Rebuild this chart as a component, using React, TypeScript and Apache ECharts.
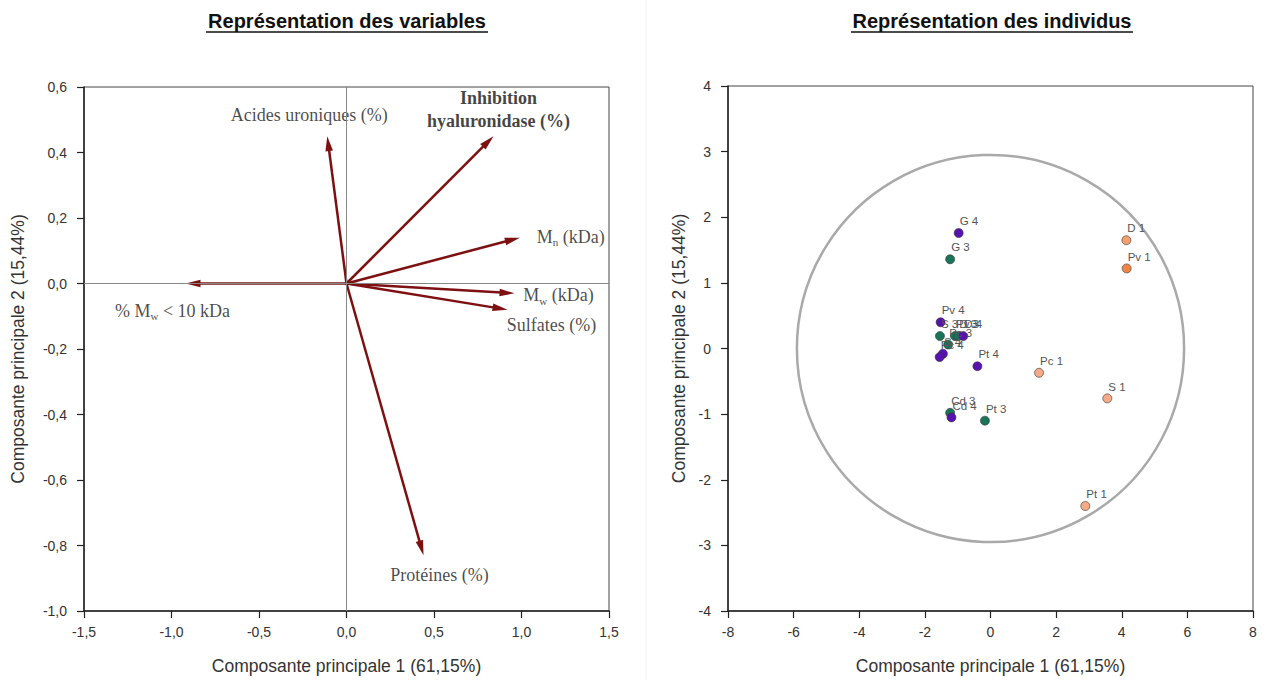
import React, { useEffect, useRef } from "react";
import * as echarts from "echarts";

// ---- Variables map (loadings on PC1 / PC2) ----
const variableLabels = [
  "Acides uroniques (%)",
  "{b|Inhibition}\n{b|hyaluronidase (%)}",
  "M{sub|n} (kDa)",
  "M{sub|w} (kDa)",
  "Sulfates (%)",
  "% M{sub|w} < 10 kDa",
  "Protéines (%)",
];
const pc1Loadings = [-0.11, 0.84, 0.99, 0.96, 0.92, -0.92, 0.44];
const pc2Loadings = [0.45, 0.45, 0.14, -0.03, -0.08, 0.0, -0.83];

// ---- Individuals map (scores on PC1 / PC2) ----
const group1Names = ["D 1", "Pv 1", "Pc 1", "S 1", "Pt 1"];
const group1X = [4.14, 4.15, 1.48, 3.56, 2.89];
const group1Y = [1.65, 1.22, -0.37, -0.76, -2.4];

const group3Names = ["G 3", "S 3", "Pv 3", "D 3", "Pc 3", "Cd 3", "Pt 3"];
const group3X = [-1.23, -1.54, -1.08, -0.98, -1.29, -1.23, -0.17];
const group3Y = [1.36, 0.19, 0.19, 0.19, 0.06, -0.98, -1.1];

const group4Names = ["G 4", "Pv 4", "D 4", "S 4", "Pc 4", "Pt 4", "Cd 4"];
const group4X = [-0.97, -1.52, -0.83, -1.45, -1.55, -0.4, -1.19];
const group4Y = [1.76, 0.4, 0.19, -0.08, -0.13, -0.27, -1.05];

const correlationCircleRadius = 5.9; // PC1 units

// ---- Axis ticks ----
const varXTicks = { min: -1.5, max: 1.5, interval: 0.5 };
const varYTicks = { min: -1.0, max: 0.6, interval: 0.2 };
const indXTicks = { min: -8, max: 8, interval: 2 };
const indYTicks = { min: -4, max: 4, interval: 1 };

const titleVariables = "Représentation des variables";
const titleIndividus = "Représentation des individus";
const xName = "Composante principale 1 (61,15%)";
const yName = "Composante principale 2 (15,44%)";

// ---- Styling (layout only) ----
const labelOffsets: number[][] = [
  [-18, -21],
  [5, -27],
  [51, -1],
  [44, 2],
  [44, 15],
  [-13, 27],
  [16, 20],
];
const ARROW = "#7d1010";
const SANS = "'Liberation Sans', Arial, sans-serif";
const SERIF = "'Liberation Serif', 'Times New Roman', serif";
const pointColors: Record<string, string> = { "Pv 1": "#ee8446", "D 1": "#f3a06e" };
const group1Color = "#f5aa88";
const group3Color = "#187559";
const group4Color = "#5812b0";

const commaFmt = (d: number) => (v: number) => {
  const s = v.toFixed(d).replace(".", ",");
  return s === "-0,0" ? "0,0" : s;
};

function axisCommon(grid: number) {
  return {
    gridIndex: grid,
    type: "value" as const,
    axisLine: { show: true, onZero: false, lineStyle: { color: "#222", width: 1.5 } },
    axisTick: { show: true, inside: false, length: 7, lineStyle: { color: "#222", width: 1.2 } },
    splitLine: { show: false },
    nameLocation: "middle" as const,
    nameTextStyle: { fontFamily: SANS, fontSize: 17.5, color: "#333" },
  };
}

const tickLabel = { fontFamily: SANS, fontSize: 14, color: "#333" };

export default function App() {
  const ref = useRef<HTMLDivElement>(null);
  useEffect(() => {
    if (!ref.current) return;
    const chart = echarts.init(ref.current, null, { renderer: "svg" });

    const arrowData = pc1Loadings.map((x, i) => [x, pc2Loadings[i]]);
    const labelData = pc1Loadings.map((x, i) => ({
      name: variableLabels[i],
      value: [x, pc2Loadings[i]],
      label: {
        offset: labelOffsets[i],
        ...(i === 0 ? { backgroundColor: "#fff", padding: [3, 1] } : {}),
      },
    }));

    const mkPoints = (names: string[], xs: number[], ys: number[]) =>
      names.map((n, i) => ({ name: n, value: [xs[i], ys[i]] }));

    const pointSeries = (name: string, names: string[], xs: number[], ys: number[], color: string) => ({
      name,
      type: "scatter",
      xAxisIndex: 1,
      yAxisIndex: 1,
      symbolSize: 9,
      z: 5,
      itemStyle: {
        color: (p: any) => pointColors[p.name] || color,
        borderColor: "#333",
        borderWidth: 0.6,
        opacity: 1,
      },
      label: {
        show: true,
        formatter: "{b}",
        position: "top",
        distance: 1,
        align: "left",
        offset: [1, 0],
        fontFamily: SANS,
        fontSize: 11.5,
        color: "#555",
      },
      data: mkPoints(names, xs, ys),
    });

    const option: any = {
      animation: false,
      backgroundColor: "#fff",
      grid: [
        { left: 84, top: 87, width: 525, height: 524, show: true, borderColor: "#444", borderWidth: 1 },
        { left: 728, top: 86, width: 525, height: 526, show: true, borderColor: "#444", borderWidth: 1 },
      ],
      xAxis: [
        {
          ...axisCommon(0),
          ...varXTicks,
          name: xName,
          nameGap: 46,
          axisLabel: { ...tickLabel, formatter: commaFmt(1), margin: 14 },
        },
        {
          ...axisCommon(1),
          ...indXTicks,
          name: xName,
          nameGap: 46,
          axisLabel: { ...tickLabel, margin: 14 },
        },
      ],
      yAxis: [
        {
          ...axisCommon(0),
          ...varYTicks,
          name: yName,
          nameGap: 57,
          axisLabel: { ...tickLabel, formatter: commaFmt(1), margin: 17 },
        },
        {
          ...axisCommon(1),
          ...indYTicks,
          name: yName,
          nameGap: 40,
          axisLabel: { ...tickLabel, margin: 17 },
        },
      ],
      graphic: [
        {
          type: "text",
          x: 347,
          y: 21,
          style: {
            text: titleVariables,
            fontFamily: SANS,
            fontSize: 20,
            fontWeight: "bold",
            fill: "#111",
            align: "center",
            verticalAlign: "middle",
          },
        },
        { type: "line", shape: { x1: 206, y1: 32, x2: 488, y2: 32 }, style: { stroke: "#111", lineWidth: 1.3 } },
        {
          type: "text",
          x: 992,
          y: 21,
          style: {
            text: titleIndividus,
            fontFamily: SANS,
            fontSize: 20,
            fontWeight: "bold",
            fill: "#111",
            align: "center",
            verticalAlign: "middle",
          },
        },
        { type: "line", shape: { x1: 851, y1: 32, x2: 1133, y2: 32 }, style: { stroke: "#111", lineWidth: 1.3 } },
        { type: "line", shape: { x1: 646, y1: 0, x2: 646, y2: 680 }, style: { stroke: "#f2f2f2", lineWidth: 1 } },
      ],
      series: [
        {
          name: "axes0",
          type: "scatter",
          xAxisIndex: 0,
          yAxisIndex: 0,
          data: [],
          z: 1,
          markLine: {
            silent: true,
            symbol: "none",
            label: { show: false },
            lineStyle: { color: "#888", width: 1, type: "solid" },
            data: [{ xAxis: 0 }, { yAxis: 0 }],
          },
        },
        {
          name: "arrows",
          type: "custom",
          xAxisIndex: 0,
          yAxisIndex: 0,
          z: 3,
          encode: { x: 0, y: 1 },
          data: arrowData,
          renderItem: (_p: any, api: any) => {
            const o = api.coord([0, 0]);
            const t = api.coord([api.value(0), api.value(1)]);
            const dx = t[0] - o[0];
            const dy = t[1] - o[1];
            const len = Math.hypot(dx, dy) || 1;
            const ux = dx / len;
            const uy = dy / len;
            const hl = 15;
            const hw = 3.8;
            const bx = t[0] - ux * hl;
            const by = t[1] - uy * hl;
            return {
              type: "group",
              children: [
                {
                  type: "line",
                  shape: { x1: o[0], y1: o[1], x2: bx + ux * 2, y2: by + uy * 2 },
                  style: { stroke: ARROW, lineWidth: 2.5 },
                },
                {
                  type: "polygon",
                  shape: {
                    points: [
                      [t[0], t[1]],
                      [bx - uy * hw, by + ux * hw],
                      [bx + uy * hw, by - ux * hw],
                    ],
                  },
                  style: { fill: ARROW },
                },
              ],
            };
          },
        },
        {
          name: "varLabels",
          type: "scatter",
          xAxisIndex: 0,
          yAxisIndex: 0,
          symbolSize: 0,
          z: 4,
          data: labelData,
          label: {
            show: true,
            position: "inside",
            formatter: "{b}",
            fontFamily: SERIF,
            fontSize: 18,
            color: "#1a1a1a",
            lineHeight: 22,
            rich: {
              b: { fontFamily: SERIF, fontSize: 18, fontWeight: "bold", color: "#111", lineHeight: 23 },
              sub: { fontFamily: SERIF, fontSize: 11, color: "#1a1a1a", verticalAlign: "bottom", lineHeight: 22, padding: [9, 0, 0, 0] },
            },
          },
        },
        {
          name: "circle",
          type: "custom",
          xAxisIndex: 1,
          yAxisIndex: 1,
          z: 2,
          encode: { x: 0, y: 1 },
          data: [[0, 0, correlationCircleRadius]],
          renderItem: (_p: any, api: any) => {
            const c = api.coord([api.value(0), api.value(1)]);
            const r = api.size([api.value(2), 0])[0];
            return {
              type: "circle",
              shape: { cx: c[0], cy: c[1], r },
              style: { fill: "none", stroke: "#a9a9a9", lineWidth: 2.5 },
            };
          },
        },
        pointSeries("Groupe 1", group1Names, group1X, group1Y, group1Color),
        pointSeries("Groupe 3", group3Names, group3X, group3Y, group3Color),
        pointSeries("Groupe 4", group4Names, group4X, group4Y, group4Color),
      ],
    };
    chart.setOption(option);
    return () => chart.dispose();
  }, []);
  return (
    <div
      ref={ref}
      style={{ position: "fixed", left: 0, top: 0, width: 1264, height: 680, background: "#fff" }}
    />
  );
}
